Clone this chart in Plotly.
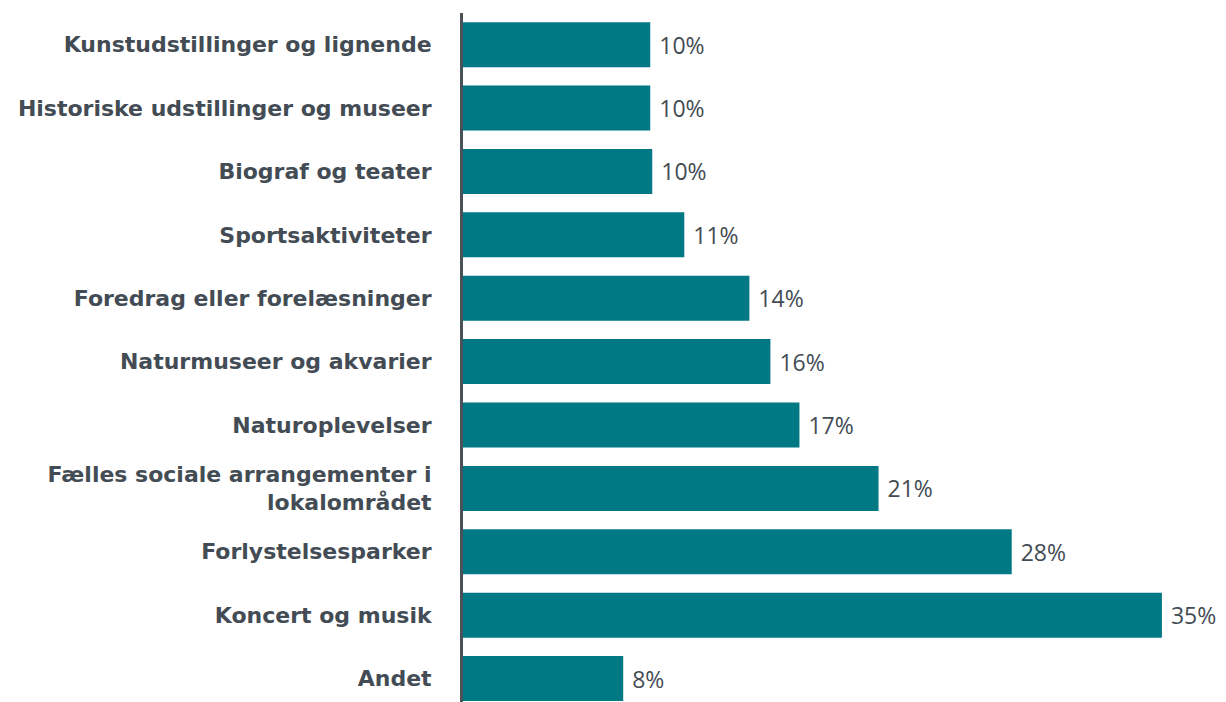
import plotly.graph_objects as go

categories = [
    "Kunstudstillinger og lignende",
    "Historiske udstillinger og museer",
    "Biograf og teater",
    "Sportsaktiviteter",
    "Foredrag eller forelæsninger",
    "Naturmuseer og akvarier",
    "Naturoplevelser",
    "Fælles sociale arrangementer i<br>lokalområdet",
    "Forlystelsesparker",
    "Koncert og musik",
    "Andet",
]
values = [9.35, 9.35, 9.45, 11.05, 14.3, 15.35, 16.8, 20.75, 27.4, 34.9, 8.0]
value_labels = ["10%", "10%", "10%", "11%", "14%", "16%", "17%", "21%", "28%", "35%", "8%"]

BAR = "#007984"
TEXT = "#434c54"

fig = go.Figure(
    go.Bar(
        y=categories,
        x=values,
        orientation="h",
        marker=dict(color=BAR, line=dict(width=0)),
        text=value_labels,
        texttemplate="\u00a0%{text}",
        textposition="outside",
        cliponaxis=False,
        textfont=dict(family="Open Sans", size=23, color=TEXT),
        width=0.71,
    )
)

fig.update_layout(
    width=1218,
    height=694,
    margin=dict(l=455, r=0, t=5, b=0, autoexpand=False),
    paper_bgcolor="white",
    plot_bgcolor="white",
    showlegend=False,
    xaxis=dict(
        range=[0, 38.1],
        visible=False,
        showgrid=False,
        zeroline=False,
    ),
    yaxis=dict(
        type="category",
        categoryorder="array",
        categoryarray=categories,
        range=[10.37, -0.5],
        showline=True,
        linecolor="#4a5259",
        linewidth=3,
        ticks="",
        ticklabelstandoff=24,
        showgrid=False,
        automargin=False,
        tickfont=dict(family="DejaVu Sans", size=22, color=TEXT, weight="bold"),
    ),
)

fig.write_html("out.html")
